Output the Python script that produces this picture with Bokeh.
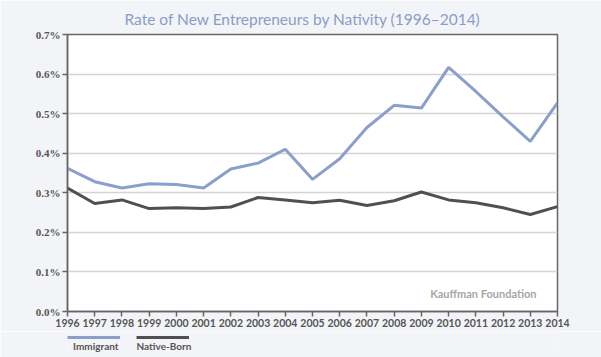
from bokeh.plotting import figure
from bokeh.layouts import column
from bokeh.models import Range1d, FixedTicker, Label, CustomJSTickFormatter, Legend, LegendItem
from bokeh.core.properties import value
from bokeh.embed import file_html
from bokeh.resources import INLINE

years = list(range(1996, 2015))
immigrant = [0.362, 0.328, 0.312, 0.323, 0.321, 0.312, 0.360, 0.375, 0.410, 0.334,
             0.386, 0.465, 0.521, 0.514, 0.617, 0.556, 0.492, 0.430, 0.527]
native_born = [0.312, 0.273, 0.282, 0.260, 0.262, 0.260, 0.264, 0.288, 0.282, 0.275,
               0.281, 0.268, 0.280, 0.302, 0.282, 0.275, 0.262, 0.245, 0.265]
y_ticks = [0.0, 0.1, 0.2, 0.3, 0.4, 0.5, 0.6, 0.7]
series_names = ["Immigrant", "Native-Born"]
title_text = "Rate of New Entrepreneurs by Nativity (1996\u20132014)"
source_text = "Kauffman Foundation"

BLUE = "#8a9fc9"
DARK = "#505050"
BG = "#f2f4f7"
colors = [BLUE, DARK]
series = [immigrant, native_born]

p = figure(width=601, height=331, output_backend="svg", toolbar_location=None,
           x_range=Range1d(1996, 2014), y_range=Range1d(0, 0.7),
           min_border_left=67, min_border_right=44, min_border_top=34, min_border_bottom=20)

p.background_fill_color = "white"
p.border_fill_color = BG
p.outline_line_color = "#666666"
p.outline_line_width = 1.5

p.title.text = title_text
p.title.align = "left"
p.title.offset = 57
p.title.text_font = "Lato"
p.title.text_font_size = "15.5px"
p.title.text_font_style = "normal"
p.title.text_color = "#8b9dc6"
p.title.standoff = 14

p.xgrid.visible = False
p.ygrid.grid_line_color = "#d4d4d4"
p.ygrid.grid_line_width = 1.5

p.xaxis.ticker = FixedTicker(ticks=years)
p.yaxis.ticker = FixedTicker(ticks=y_ticks)
p.yaxis.formatter = CustomJSTickFormatter(code="return tick.toFixed(1) + '%';")
p.xaxis.formatter = CustomJSTickFormatter(code="return tick.toFixed(0);")

for ax in (p.xaxis[0], p.yaxis[0]):
    ax.axis_line_color = "#666666"
    ax.axis_line_width = 1.5
    ax.major_tick_line_color = "#666666"
    ax.major_tick_line_width = 1.5
    ax.minor_tick_line_color = None
    ax.major_label_text_color = "#555555"
    ax.major_label_text_font_style = "bold"

p.xaxis.major_tick_out = 5
p.xaxis.major_tick_in = 0
p.xaxis.major_label_standoff = 2
p.xaxis.major_label_text_font = "Lato"
p.xaxis.major_label_text_font_size = "10.5px"
p.yaxis.major_tick_out = 5
p.yaxis.major_tick_in = 0
p.yaxis.major_label_standoff = 2
p.yaxis.major_label_text_font = "Liberation Serif"
p.yaxis.major_label_text_font_size = "11px"

for ys, c in zip(series, colors):
    p.line(years, ys, line_color=c, line_width=3)

p.add_layout(Label(x=2014, y=0.045, x_offset=-21, text=source_text, text_align="right",
                   text_baseline="middle", text_font="Lato", text_font_style="bold",
                   text_font_size="11px", text_color="#a6a6a6"))

# ---- legend strip below the chart: swatch line on top, name underneath ----
lg = figure(width=601, height=26, output_backend="svg", toolbar_location=None,
            x_range=Range1d(0, 1), y_range=Range1d(0, 1),
            x_axis_location=None, y_axis_location=None,
            min_border_left=66, min_border_right=0, min_border_top=0, min_border_bottom=5)
lg.grid.visible = False
lg.outline_line_color = None
lg.background_fill_color = BG
lg.border_fill_color = BG
# same series, drawn out of this strip's view: only their legend swatches show
swatches = [lg.line(years, ys, line_color=c, line_width=3) for ys, c in zip(series, colors)]

leg_lines = Legend(items=[LegendItem(label=value(" "), renderers=[r]) for r in swatches],
                   orientation="horizontal", location="top_left",
                   glyph_width=53, glyph_height=12, label_width=0, label_height=0,
                   label_standoff=0, label_text_font_size="1px", spacing=16,
                   padding=0, margin=0, border_line_color=None, background_fill_alpha=0)
leg_text = Legend(items=[LegendItem(label=value(n), renderers=[r]) for n, r in zip(series_names, swatches)],
                  orientation="horizontal", location="bottom_left",
                  glyph_width=0, glyph_height=12, label_width=0, label_height=12,
                  label_standoff=6, spacing=12,
                  label_text_font="Lato", label_text_font_style="bold",
                  label_text_font_size="10px", label_text_color="#555555",
                  padding=0, margin=0, border_line_color=None, background_fill_alpha=0)
lg.add_layout(leg_lines)
lg.add_layout(leg_text)

layout = column(p, lg, spacing=0)
open("out.html", "w").write(file_html(layout, INLINE))
